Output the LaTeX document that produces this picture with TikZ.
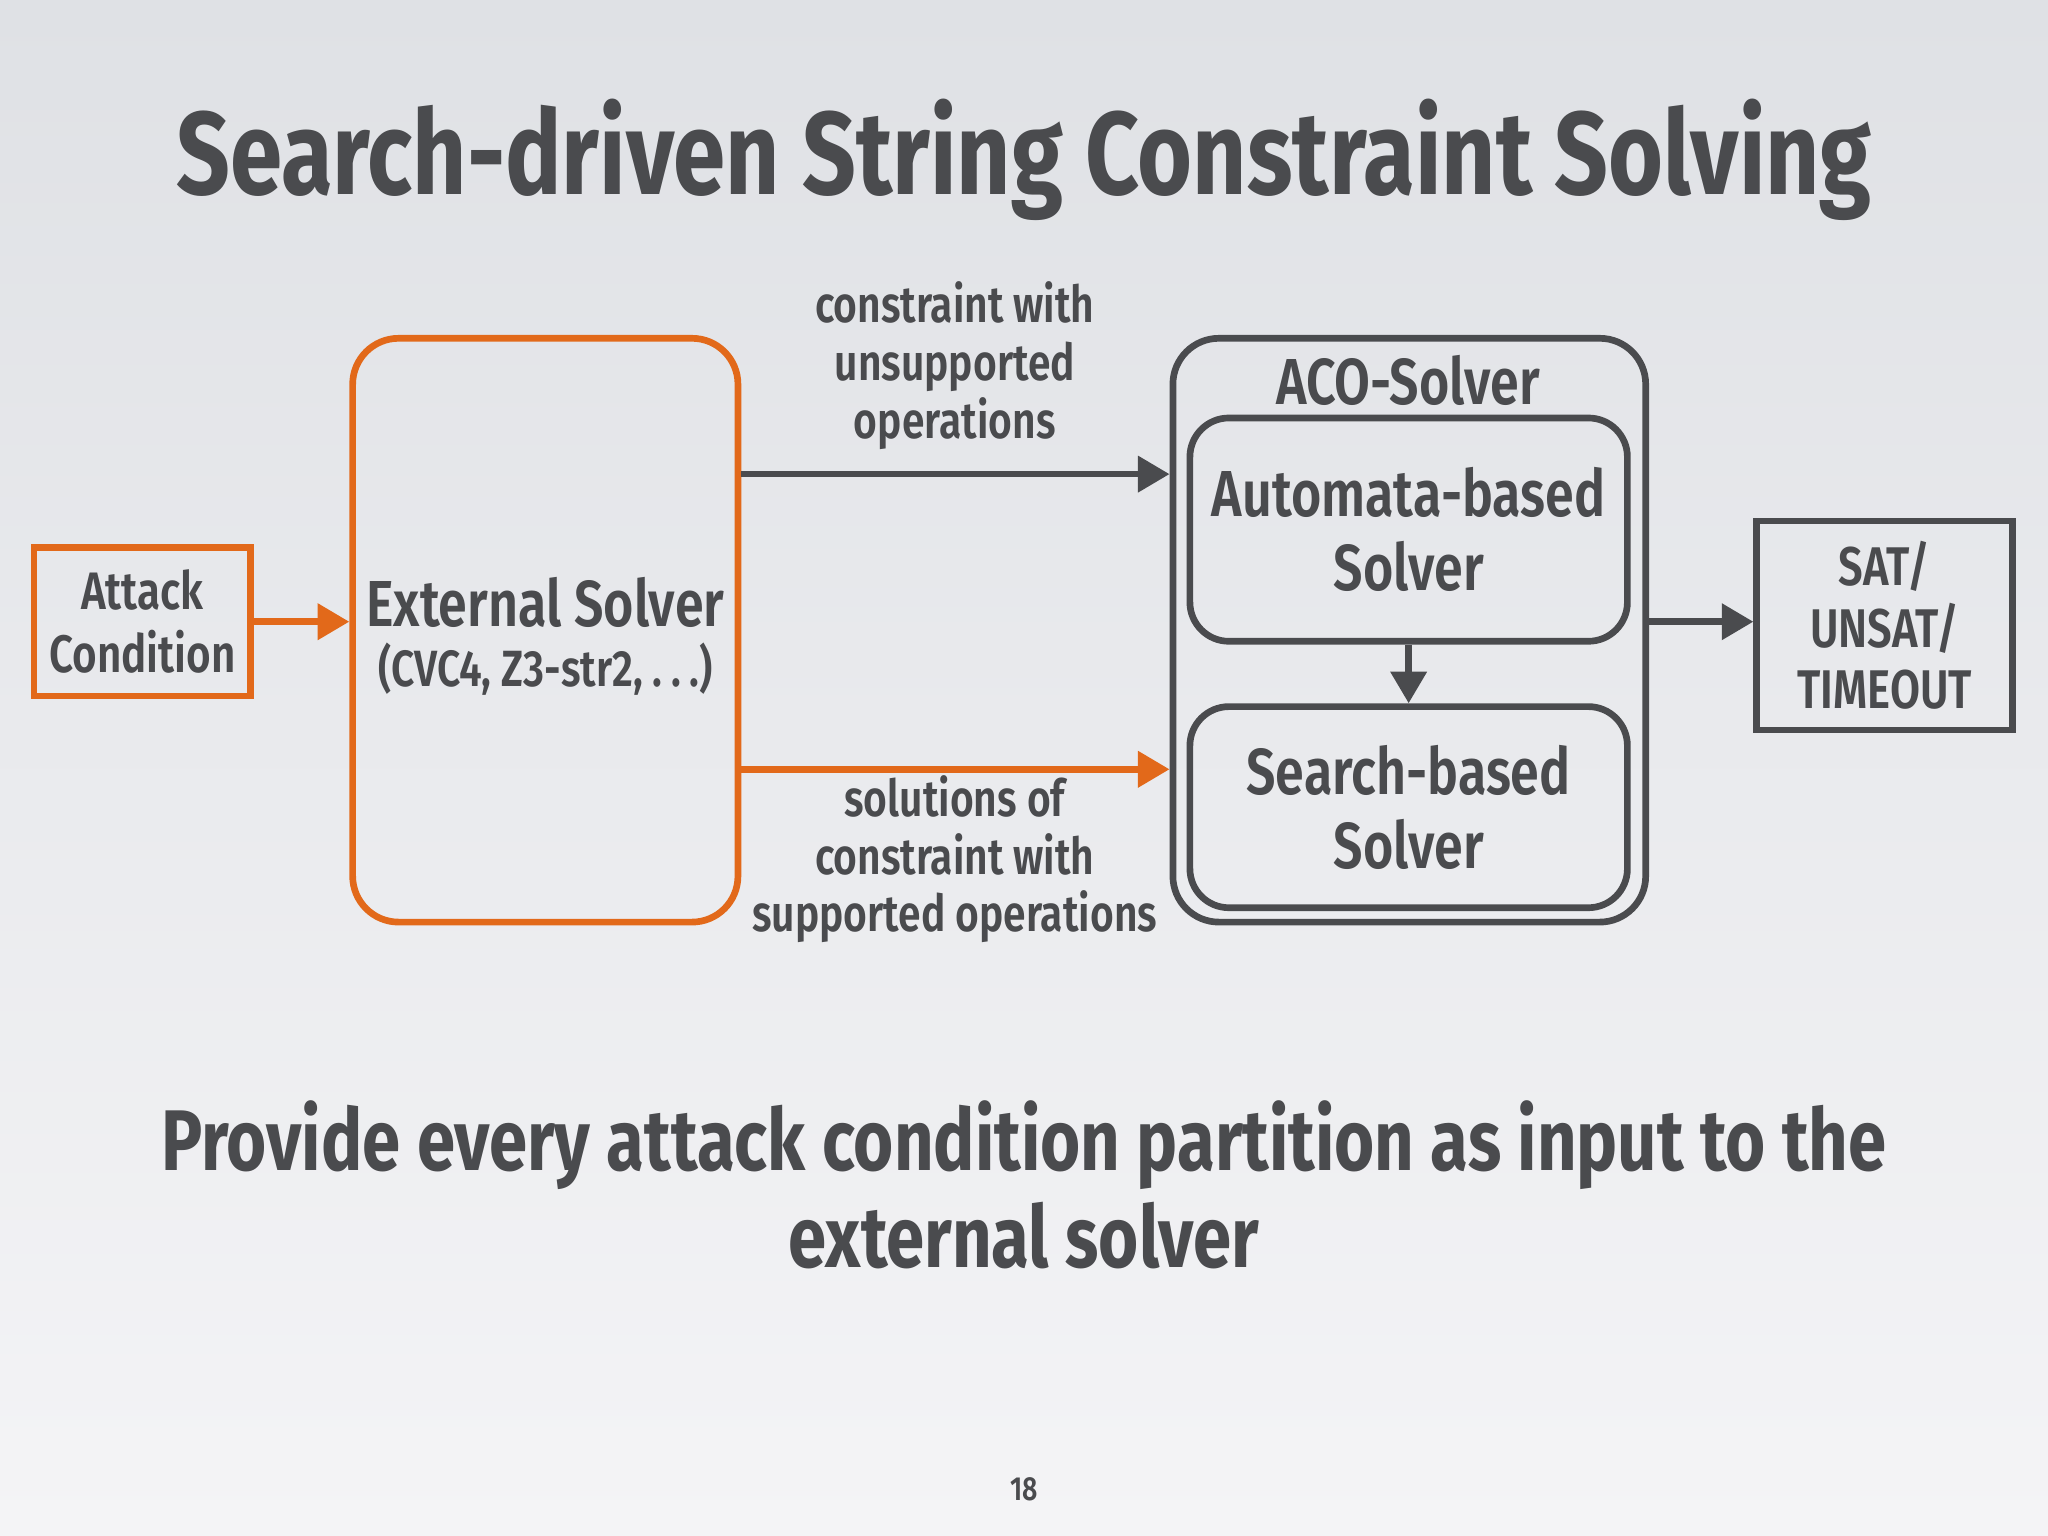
\documentclass[tikz,border=0pt]{standalone}
\usepackage{fontspec}
\setmainfont{Fira Sans}[FakeStretch=0.80,UprightFont=* SemiBold,BoldFont=* Bold]
\usetikzlibrary{arrows.meta}
\definecolor{txt}{HTML}{4A4B4E}
\definecolor{org}{HTML}{E2691A}
\definecolor{bgt}{HTML}{DFE1E5}
\definecolor{bgb}{HTML}{F4F4F6}
\begin{document}
\begin{tikzpicture}[x=0.01306cm,y=-0.01306cm,
  box/.style={draw=txt,line width=1.9pt,text=txt,align=center,inner sep=0pt},
  obox/.style={box,draw=org},
  arr/.style={line width=1.9pt,draw=txt,-{Triangle[length=9pt,width=10pt]}},
  oarr/.style={arr,draw=org,-{Triangle[length=9pt,width=10pt,fill=org]}},
  lbl/.style={text=txt,align=center,font=\fontsize{14.5}{16.4}\selectfont}]
\shade[top color=bgt,bottom color=bgb] (0,0) rectangle (1568,1176);
\useasboundingbox (0,0) rectangle (1568,1176);
\node[text=txt,font=\bfseries\fontsize{33.5}{40}\selectfont] (title) at (784,122) {Search-driven String Constraint Solving};
\node[obox,minimum width=2.168cm,minimum height=1.489cm,font=\fontsize{15}{18}\selectfont] (att) at (109,476) {Attack\\Condition};
\node[obox,rounded corners=0.46cm,minimum width=3.853cm,minimum height=5.838cm] (ext) at (417.5,482.5) {};
\node[text=txt,font=\fontsize{18.5}{20}\selectfont] (extl) at (417.5,461) {External Solver};
\node[text=txt,font=\fontsize{14.5}{16}\selectfont] (extl2) at (417.5,512) {(CVC4, Z3-str2, .\,.\,.)};
\node[box,rounded corners=0.46cm,minimum width=4.728cm,minimum height=5.838cm] (aco) at (1079,482.5) {};
\node[text=txt,font=\fontsize{18.5}{20}\selectfont] (acol) at (1078,291) {ACO-Solver};
\node[box,rounded corners=0.39cm,minimum width=4.375cm,minimum height=2.233cm,font=\fontsize{18.5}{21}\selectfont] (auto) at (1078.5,405.5) {Automata-based\\Solver};
\node[box,rounded corners=0.39cm,minimum width=4.375cm,minimum height=2.011cm,font=\fontsize{18.5}{21}\selectfont] (search) at (1078.5,618) {Search-based\\Solver};
\node[box,minimum width=2.560cm,minimum height=2.090cm,font=\fontsize{15.5}{17.5}\selectfont] (out) at (1443,479) {SAT/\\UNSAT/\\TIMEOUT};
\coordinate (y1) at (0,363);
\coordinate (y2) at (0,589);
\coordinate (y3) at (0,476);
\draw[oarr] (att.east) -- (ext.west |- att.east);
\draw[arr] (ext.east |- y1) -- (aco.west |- y1);
\draw[oarr,draw=org] (ext.east |- y2) -- (aco.west |- y2);
\draw[arr] (auto.south) -- (search.north);
\draw[arr] (aco.east |- y3) -- (out.west |- y3);
\node[lbl] (l1) at (731,280) {constraint with\\unsupported\\operations};
\node[lbl] (l2) at (731,658) {solutions of\\constraint with\\supported operations};
\node[text=txt,align=center,font=\bfseries\fontsize{24.5}{27.5}\selectfont] (bot) at (784,907) {Provide every attack condition partition as input to the\\external solver};
\node[text=txt,font=\fontsize{9.5}{10}\selectfont] (pg) at (784,1140) {18};
\end{tikzpicture}
\end{document}
